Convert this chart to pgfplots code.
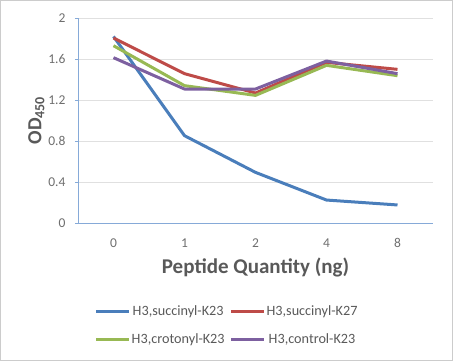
\documentclass[border=0pt]{standalone}
\usepackage{fontspec}
\setmainfont{Carlito}
\usepackage{pgfplots}
\pgfplotsset{compat=1.18}
\definecolor{cblue}{HTML}{4A7EBB}
\definecolor{cred}{HTML}{BE4B48}
\definecolor{cgreen}{HTML}{98B954}
\definecolor{cpurple}{HTML}{7D60A0}
\definecolor{tickgray}{HTML}{6E6E6E}
\definecolor{titlegray}{HTML}{595959}
\definecolor{axblue}{HTML}{86AAD8}
\begin{document}
\begin{tikzpicture}
\useasboundingbox (-78bp,-138bp) rectangle (375bp,223bp);
\begin{axis}[
  at={(0,0)}, anchor=south west,
  scale only axis,
  width=355bp, height=205bp,
  xmin=-0.5, xmax=4.5,
  ymin=0, ymax=2,
  xtick={0,1,2,3,4},
  xticklabels={0,1,2,4,8},
  ytick={0,0.4,0.8,1.2,1.6,2},
  yticklabels={0,0.4,0.8,1.2,1.6,2},
  ymajorgrids,
  grid style={draw=black!12, line width=0.8bp},
  axis x line*=bottom,
  axis y line*=left,
  axis line style={draw=axblue, line width=0.8bp, -},
  x tick style={draw=none},
  y tick style={draw=axblue, line width=0.8bp},
  tick align=outside,
  major tick length=3bp,
  tick label style={font=\fontsize{13.5bp}{15bp}\selectfont, text=tickgray},
  xticklabel style={yshift=-9bp},
  yticklabel style={xshift=-6bp},
  xlabel={\textbf{Peptide Quantity (ng)}},
  xlabel style={font=\fontsize{21bp}{24bp}\selectfont, text=titlegray, yshift=-3bp},
  ylabel={\textbf{OD\textsubscript{450}}},
  ylabel style={font=\fontsize{20bp}{24bp}\selectfont, text=titlegray, yshift=-3bp},
  legend columns=2,
  legend style={
    at={(0.42,-0.50)}, anchor=center,
    draw=none, fill=none,
    font=\fontsize{14.2bp}{16bp}\selectfont, text=titlegray,
    /tikz/every even column/.append style={column sep=3bp},
    /tikz/every odd column/.append style={column sep=-1bp},
    row sep=13bp,
  },
  legend image code/.code={\draw[#1, line width=3bp] (0bp,0bp) -- (33bp,0bp);},
  every axis plot/.append style={line width=3bp, line join=round},
]
\addplot[cblue, mark=none] coordinates {(0,1.82) (1,0.852) (2,0.494) (3,0.224) (4,0.176)};
\addlegendentry{H3,succinyl-K23}
\addplot[cred, mark=none] coordinates {(0,1.805) (1,1.457) (2,1.268) (3,1.567) (4,1.499)};
\addlegendentry{H3,succinyl-K27}
\addplot[cgreen, mark=none] coordinates {(0,1.73) (1,1.34) (2,1.245) (3,1.538) (4,1.437)};
\addlegendentry{H3,crotonyl-K23}
\addplot[cpurple, mark=none] coordinates {(0,1.613) (1,1.307) (2,1.307) (3,1.58) (4,1.457)};
\addlegendentry{H3,control-K23}
\end{axis}
\draw[draw=black!20, line width=0.8bp] (-77.4bp,-137.4bp) rectangle (374.4bp,222.4bp);
\end{tikzpicture}
\end{document}
